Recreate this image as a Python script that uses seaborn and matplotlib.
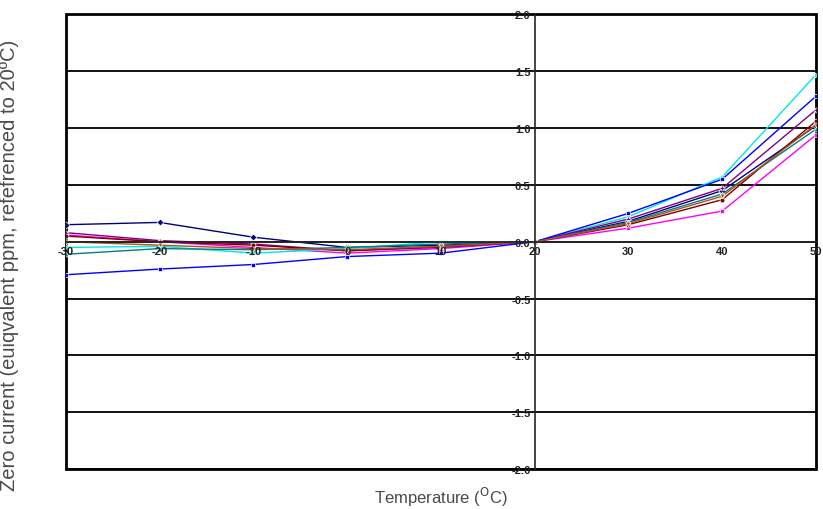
import matplotlib.pyplot as plt
import pandas as pd
import seaborn as sns

temps = [-30, -20, -10, 0, 10, 20, 30, 40, 50]

navy = [0.15, 0.17, 0.04, -0.05, -0.03, 0.0, 0.18, 0.45, 1.02]
magenta = [0.06, 0.00, -0.05, -0.10, -0.06, 0.0, 0.12, 0.27, 0.94]
cyan = [-0.05, -0.04, -0.10, -0.06, 0.00, 0.0, 0.22, 0.57, 1.47]
purple = [0.08, 0.01, -0.02, -0.08, -0.05, 0.0, 0.20, 0.47, 1.16]
darkred = [0.05, 0.00, -0.03, -0.08, -0.04, 0.0, 0.15, 0.37, 1.06]
teal = [-0.11, -0.06, -0.07, -0.05, -0.02, 0.0, 0.17, 0.42, 0.99]
blue = [-0.29, -0.24, -0.20, -0.13, -0.10, 0.0, 0.25, 0.55, 1.28]
brown = [0.00, -0.03, -0.06, -0.07, -0.04, 0.0, 0.16, 0.40, 1.03]

series = {
    "s1": navy, "s2": magenta, "s3": cyan, "s4": purple,
    "s5": darkred, "s6": teal, "s7": blue, "s8": brown,
}
colors = ["#000080", "#FF00FF", "#00E5E5", "#800080",
          "#800000", "#008080", "#0000FF", "#B05020"]
markers = ["D", "s", "X", "P", "o", "^", "s", "v"]
yticks = [2.0, 1.5, 1.0, 0.5, 0.0, -0.5, -1.0, -1.5, -2.0]

rows = []
for name, vals in series.items():
    for t, v in zip(temps, vals):
        rows.append({"temp": t, "value": v, "series": name})
df = pd.DataFrame(rows)

sns.set_style("white")
plt.rcParams["font.family"] = ["Liberation Sans", "DejaVu Sans"]

fig = plt.figure(figsize=(8.23, 5.10), dpi=100)
ax = fig.add_axes([0.080, 0.078, 0.9115, 0.892])

# black horizontal gridlines underneath the data
for yv in yticks:
    ax.axhline(yv, color="black", linewidth=1.3, zorder=1)

sns.lineplot(data=df, x="temp", y="value", hue="series", style="series",
             palette=colors, markers=markers, dashes=False, linewidth=1.0,
             markersize=3.5, markeredgewidth=0.5, legend=False, ax=ax,
             zorder=2)

ax.set_xlim(-30, 50)
ax.set_ylim(-2.0, 2.0)
ax.set_xticks(temps)
ax.set_xticklabels([str(t) for t in temps])
ax.set_yticks(yticks)
ax.set_yticklabels(["%.1f" % v for v in yticks])
ax.set_axisbelow(False)

# axes crossing at x=20, y=0
ax.spines["left"].set_position(("data", 20))
ax.spines["bottom"].set_position(("data", 0))
ax.spines["left"].set_linewidth(1.2)
ax.spines["bottom"].set_linewidth(1.3)
ax.spines["top"].set_visible(False)
ax.spines["right"].set_visible(False)
ax.patch.set_edgecolor("black")
ax.patch.set_linewidth(2.0)

ax.tick_params(axis="both", length=0, labelsize=8, colors="#222222", pad=3)
for lab in ax.get_xticklabels() + ax.get_yticklabels():
    lab.set_fontweight("bold")

ax.set_xlabel("Temperature ($^{\\mathrm{O}}$C)", fontsize=12, color="#4a4a4a")
ax.set_ylabel("Zero current (euiqvalent ppm, refefrenced to 20\u00baC)",
              fontsize=14.5, color="#4a4a4a")
ax.xaxis.set_label_coords(0.5, -0.035)
ax.yaxis.set_label_coords(-0.062, 0.45)

fig.savefig("out.png", dpi=100)
